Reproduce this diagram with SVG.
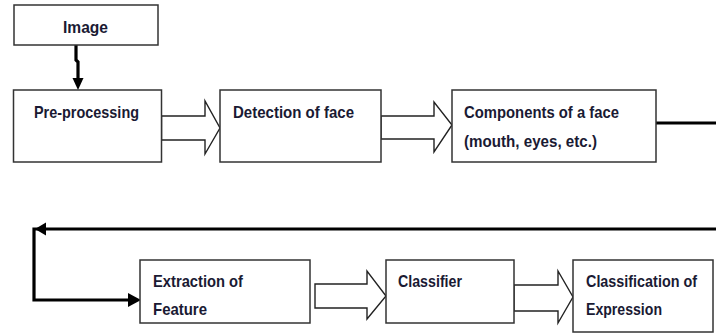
<svg xmlns="http://www.w3.org/2000/svg" width="716" height="333" viewBox="0 0 716 333">
<style>
.box{fill:#fff;stroke:#333;stroke-width:1.5}
.lbl{font-family:"Liberation Sans",Arial,sans-serif;font-weight:bold;font-size:16.5px;fill:#1a1a33}
.blk{fill:#fff;stroke:#222;stroke-width:1.4;stroke-linejoin:miter}
.thick{fill:none;stroke:#000;stroke-width:3.2}
.head{fill:#000}
</style>
<rect width="716" height="333" fill="#fff"/>
<g id="connectors">
<path class="thick" d="M76,45 V60 L78,62 V80"/>
<polygon class="head" points="72.5,78 83.5,78 78,90"/>
<path class="thick" d="M656,123 H716"/>
<path class="thick" d="M716,229 H34 V300 H130"/>
<polygon class="head" points="35,229 46,222.5 46,235.5"/>
<polygon class="head" points="128,293 141,300 128,307"/>
<polygon class="blk" points="161.5,116 205,116 205,101 220,128 205,154 205,140 161.5,140"/>
<polygon class="blk" points="381,116 434,116 434,102 452,125 434,152 434,139 381,139"/>
<polygon class="blk" points="315,284 367,284 367,271 386,296 367,319 367,308 315,308"/>
<polygon class="blk" points="514,285 558,285 558,271 573,297 558,323 558,311 514,311"/>
</g>
<g id="image">
<rect class="box" x="14" y="5" width="144" height="40"/>
<text class="lbl" x="63" y="33" textLength="45" lengthAdjust="spacingAndGlyphs">Image</text>
</g>
<g id="preprocessing">
<rect class="box" x="13.5" y="90" width="148" height="72"/>
<text class="lbl" x="34" y="118" textLength="105" lengthAdjust="spacingAndGlyphs">Pre-processing</text>
</g>
<g id="detection">
<rect class="box" x="220" y="90" width="161" height="72"/>
<text class="lbl" x="233" y="118" textLength="121" lengthAdjust="spacingAndGlyphs">Detection of face</text>
</g>
<g id="components">
<rect class="box" x="452" y="90" width="204" height="72"/>
<text class="lbl" x="464" y="118" textLength="155" lengthAdjust="spacingAndGlyphs">Components of a face</text>
<text class="lbl" x="464" y="147" textLength="133" lengthAdjust="spacingAndGlyphs">(mouth, eyes, etc.)</text>
</g>
<g id="extraction">
<rect class="box" x="140" y="260" width="170" height="63"/>
<text class="lbl" x="153" y="287" textLength="90" lengthAdjust="spacingAndGlyphs">Extraction of</text>
<text class="lbl" x="153" y="315" textLength="54" lengthAdjust="spacingAndGlyphs">Feature</text>
</g>
<g id="classifier">
<rect class="box" x="386" y="260" width="128" height="63"/>
<text class="lbl" x="398" y="287" textLength="64" lengthAdjust="spacingAndGlyphs">Classifier</text>
</g>
<g id="classification">
<rect class="box" x="573" y="260" width="140" height="72"/>
<text class="lbl" x="586" y="287" textLength="111" lengthAdjust="spacingAndGlyphs">Classification of</text>
<text class="lbl" x="586" y="315" textLength="76" lengthAdjust="spacingAndGlyphs">Expression</text>
</g>
</svg>
